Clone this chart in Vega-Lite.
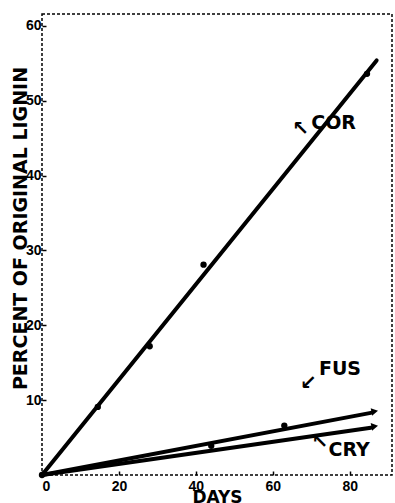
{
  "$schema": "https://vega.github.io/schema/vega-lite/v6.json",
  "autosize": {"type": "none"},
  "width": 350,
  "height": 461,
  "padding": {"left": 42, "top": 14, "right": 3, "bottom": 28},
  "background": "white",
  "config": {
    "view": {"stroke": "black", "strokeDash": [3, 2], "strokeWidth": 1.5},
    "axis": {
      "domain": false,
      "grid": false,
      "ticks": true,
      "tickColor": "black",
      "tickSize": -4,
      "tickWidth": 1.5,
      "labelFont": "Liberation Sans",
      "labelFontWeight": "bold",
      "labelFontSize": 14,
      "labelColor": "black",
      "titleFont": "DejaVu Sans",
      "titleFontWeight": "bold",
      "titleColor": "black"
    }
  },
  "datasets": {
    "lines": [
      {"series": "COR", "day": 0, "pct": 0},
      {"series": "COR", "day": 87, "pct": 55.4},
      {"series": "FUS", "day": 0, "pct": 0},
      {"series": "FUS", "day": 85.5, "pct": 8.3},
      {"series": "CRY", "day": 0, "pct": 0},
      {"series": "CRY", "day": 85.5, "pct": 6.3}
    ],
    "points": [
      {"series": "COR", "day": 0, "pct": 0},
      {"series": "COR", "day": 14.5, "pct": 9.1},
      {"series": "COR", "day": 28, "pct": 17.2},
      {"series": "COR", "day": 42, "pct": 28.1},
      {"series": "COR", "day": 84.5, "pct": 53.6},
      {"series": "FUS", "day": 63, "pct": 6.6},
      {"series": "CRY", "day": 44, "pct": 3.9}
    ],
    "heads": [
      {"series": "FUS", "day": 86.5, "pct": 8.5},
      {"series": "CRY", "day": 86.5, "pct": 6.5}
    ],
    "labels": [
      {"label": "COR", "day": 70, "pct": 47},
      {"label": "FUS", "day": 72, "pct": 14.2},
      {"label": "CRY", "day": 74.5, "pct": 3.3}
    ],
    "arrows": [
      {"glyph": "↖", "day": 67.2, "pct": 46.3},
      {"glyph": "↙", "day": 69.2, "pct": 12.3},
      {"glyph": "↖", "day": 72.2, "pct": 4.4}
    ]
  },
  "layer": [
    {
      "data": {"name": "lines"},
      "mark": {"type": "line", "color": "black", "strokeWidth": 4, "strokeCap": "round"},
      "encoding": {
        "x": {
          "field": "day", "type": "quantitative",
          "scale": {"domain": [0, 91], "nice": false},
          "axis": {"values": [0, 20, 40, 60, 80], "title": "DAYS", "labelPadding": 8, "titleFontSize": 17, "titleY": 14, "titleBaseline": "top", "titleX": 175}
        },
        "y": {
          "field": "pct", "type": "quantitative",
          "scale": {"domain": [0, 61.6], "nice": false},
          "axis": {"values": [10, 20, 30, 40, 50, 60], "title": "PERCENT OF ORIGINAL LIGNIN", "labelPadding": 5, "titleFontSize": 19, "titleX": -22, "titleY": 214, "titleAngle": -90, "titleBaseline": "middle", "titleAlign": "center"}
        },
        "detail": {"field": "series"}
      }
    },
    {
      "data": {"name": "points"},
      "mark": {"type": "point", "filled": true, "color": "black", "size": 40, "opacity": 1},
      "encoding": {
        "x": {"field": "day", "type": "quantitative"},
        "y": {"field": "pct", "type": "quantitative"}
      }
    },
    {
      "data": {"name": "heads"},
      "mark": {"type": "point", "shape": "triangle-right", "filled": true, "color": "black", "size": 60, "angle": -10, "opacity": 1},
      "encoding": {
        "x": {"field": "day", "type": "quantitative"},
        "y": {"field": "pct", "type": "quantitative"}
      }
    },
    {
      "data": {"name": "labels"},
      "mark": {"type": "text", "align": "left", "baseline": "middle", "font": "DejaVu Sans", "fontWeight": "bold", "fontSize": 19, "color": "black"},
      "encoding": {
        "x": {"field": "day", "type": "quantitative"},
        "y": {"field": "pct", "type": "quantitative"},
        "text": {"field": "label"}
      }
    },
    {
      "data": {"name": "arrows"},
      "mark": {"type": "text", "align": "center", "baseline": "middle", "font": "DejaVu Sans", "fontWeight": "bold", "fontSize": 20, "color": "black"},
      "encoding": {
        "x": {"field": "day", "type": "quantitative"},
        "y": {"field": "pct", "type": "quantitative"},
        "text": {"field": "glyph"}
      }
    }
  ]
}
